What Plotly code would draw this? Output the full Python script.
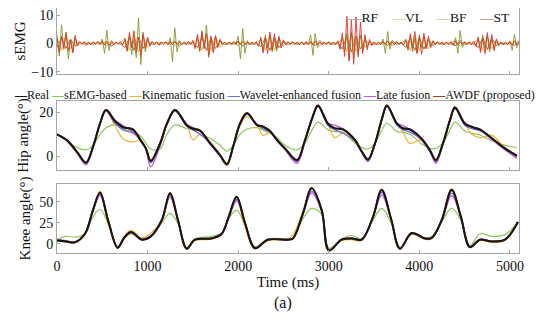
import numpy as np
import plotly.graph_objects as go

FONT = "Liberation Serif"

# ---------------- sEMG data (RF/BF every 25 ms, VL/ST every 50 ms) ----------------
semg_step_rf_bf = 25
semg_step_vl_st = 50
rf = [1.8,-3.2,2.4,-1.5,3.6,-2.6,1.2,-3.4,2.8,-0.9,
      0.6,-0.2,0.5,-0.7,0.2,-0.5,0.6,-0.3,0.7,-0.4,
      0.9,-0.6,0.4,-0.8,0.3,-0.6,0.5,-0.2,0.6,-0.5,
      1.4,-2.8,3.9,-1.6,4.4,-3.1,2.2,-4.2,3.3,-1.8,
      2.1,-0.9,0.7,-0.5,0.3,-0.7,0.5,-0.2,0.6,-0.5,
      0.8,-0.5,0.6,-0.3,0.5,-0.6,0.3,-0.5,0.7,-0.3,
      1.1,-1.9,3.2,-2.4,4.1,-1.8,3.5,-4.3,2.6,-3.3,
      2.7,-1.2,1.5,-0.6,0.4,-0.6,0.5,-0.3,0.7,-0.4,
      0.8,-0.5,0.6,-0.4,0.5,-0.6,0.3,-0.5,0.6,-1.1,
      2.2,-3.4,1.9,-3.6,4,-2.2,3.4,-1.9,2.5,-1.6,
      1.2,-0.6,0.5,-0.4,0.6,-0.3,0.5,-0.6,0.4,-0.5,
      0.6,-0.4,0.7,-0.6,0.8,-0.5,0.4,-0.6,0.5,-0.3,
      0.6,-0.5,0.4,-0.6,0.9,-2.1,3.6,-4.6,9.6,-6.2,
      8.2,-7.4,9.3,-4.8,7.5,-3.6,3.1,-2.2,1.4,-0.8,
      0.5,-0.6,0.4,-0.5,0.7,-0.4,0.8,-0.6,0.4,-0.5,
      0.6,-0.4,0.5,-0.6,1.3,-2.4,3.4,-1.9,4.2,-3.6,
      2.3,-3.9,3.6,-1.8,2.6,-1.5,0.9,-0.5,0.6,-0.4,
      0.5,-0.6,0.4,-0.5,0.6,-0.7,0.8,-0.6,0.5,-0.4,
      0.6,-0.5,0.4,-0.6,0.7,-1.1,2.3,-3.2,1.9,-3.7,
      3.8,-2.1,3.1,-2.6,1.6,-0.8,0.5,-0.6,0.4,-0.5,
      0.6,-0.7,0.8,-0.5,0.4]
bf = [3,-4.5,6.5,-2.2,4,-5.5,1.5,-3,2,-1,
      0.5,-0.3,0.6,-0.4,0.3,-0.5,0.4,-0.3,0.5,-0.4,
      1.5,-3.5,4.6,-2.5,1,-0.4,0.5,-0.3,0.4,-0.6,
      1.5,-2.5,3,-4,1.5,-5,9,-7.5,4,-3,
      2,-1,0.5,-0.3,0.6,-0.4,0.4,-0.3,0.5,-0.4,
      2,-6.5,5.5,-3,1,-0.4,0.5,-0.3,0.3,-0.5,
      0.6,-1.2,2.5,-3,4.5,-1.8,6.5,-5,2,-3,
      2.4,-1.5,0.8,-0.4,0.5,-0.3,0.4,-0.6,0.3,-0.4,
      2.5,-5.5,5.2,-3.5,1,-0.4,0.5,-0.3,0.3,-0.5,
      1.5,-2.5,3,-1.5,2.8,-3,1.5,-2.8,2,-1.5,
      1,-0.5,0.6,-0.3,0.4,-0.5,0.3,-0.4,0.5,-0.3,
      0.4,-0.5,3,-4.2,3.5,-1.5,0.5,-0.3,0.4,-0.5,
      0.3,-0.4,0.5,-0.3,0.5,-1,2,-3,3.5,-6,
      4,-5.5,1.5,-4,3,-2.5,2,-1.5,1,-0.5,
      0.3,-0.5,0.4,-0.3,1.5,-3.5,4.2,-2,0.6,-0.3,
      0.4,-0.5,0.3,-0.4,0.8,-1.5,2.5,-3,1.8,-3.5,
      3,-1.5,2.5,-2,1.5,-1,0.6,-0.3,0.5,-0.4,
      0.3,-0.5,0.4,-0.3,0.5,-0.4,2,-3.5,4.5,-1.5,
      0.5,-0.4,0.6,-0.3,0.4,-0.6,1.5,-2.5,3,-1.5,
      2.8,-3,1.2,-1.8,1,-0.5,0.3,-0.5,0.4,-0.3,
      0.8,-2.5,3.2,-1.5,0.5]
vl = [2,-2.5,3,-2,1.5,-0.5,0.3,-0.3,0.3,-0.3,
      0.3,-1,0.8,-0.3,0.3,2,-2.5,3,-3,2.5,
      -1.5,0.4,-0.3,0.3,-0.3,0.3,-1,0.8,-0.3,0.3,
      -0.3,1.5,-2.5,3,-2.5,2.5,-1.5,0.4,-0.3,0.3,
      -1,1,-0.3,0.3,-0.3,1.5,-2.5,2.8,-2.5,2,
      -1,0.4,-0.3,0.3,-0.3,0.3,-0.3,1,-0.8,0.3,
      -0.3,0.3,-0.3,2,-3,3.5,-3,2.5,-1.5,0.4,
      -0.3,0.3,-0.3,1,-0.8,0.3,-0.3,1.5,-2.5,3,
      -2.5,2.5,-2,1,-0.3,0.3,-0.3,0.3,1,-1,
      0.3,-0.3,0.3,1.5,-2.5,2.5,-2,1,-0.3,0.3,
      -0.3,1,-0.8]
st = [-1.5,2,-1.8,1.5,-1,0.4,-0.3,0.3,-0.3,0.3,
      -0.3,0.8,-1,0.3,-0.3,-1.5,2,-2.5,2.2,-1.8,
      1,-0.4,0.3,-0.3,0.3,-0.3,0.8,-1,0.3,-0.3,
      0.3,-1.5,2,-2.5,2,-1.8,1,-0.4,0.3,-0.3,
      0.8,-1,0.3,-0.3,0.3,-1.2,2,-2.5,2,-1.5,
      0.8,-0.4,0.3,-0.3,0.3,-0.3,0.3,-0.8,1,-0.3,
      0.3,-0.3,0.3,-2,2.5,-3,2.5,-2,1,-0.4,
      0.3,-0.3,0.3,-0.8,1,-0.3,0.3,-1.5,2,-2.5,
      2,-2,1.5,-0.8,0.3,-0.3,0.3,-0.3,-0.8,1,
      -0.3,0.3,-0.3,-1.5,2,-2.2,1.8,-0.8,0.3,-0.3,
      0.3,-0.8,1]

# ---------------- Hip angle (deg) ----------------
hip_t = [0,110,221,320,397,475,541,640,728,839,
         927,982,1034,1137,1214,1302,1435,1501,1578,1689,
         1799,1876,1943,2020,2097,2208,2274,2351,2428,2517,
         2649,2737,2815,2881,2991,3068,3157,3289,3366,3433,
         3510,3587,3642,3753,3819,3896,4029,4117,4183,4260,
         4338,4393,4503,4581,4669,4801,4945,5077]
hip_real = [10,7.3,2,-2.9,4.2,14.8,21,16,13.2,12.2,
            7,3.5,-2.1,5.8,14.8,21,14,12.5,11.6,6,
            0.6,-3.6,4.2,14.8,19.5,14.2,13.5,11.5,7.5,3.6,
            -1.7,7.3,17,23,14.8,12.7,12.2,7.4,2.1,-1.4,
            5.8,17,23,14.8,12.7,12.2,7.8,2.7,-1.7,5.8,
            16.4,22.1,14.8,13.3,12.2,8.2,3.6,0.3]
hip_semg = [10,7,4,2.9,5,10,13,14.3,12.5,11,
            9,6,3.3,3.3,10,14.2,12.5,12,10,8.2,
            5,2.4,5,10,12.4,13,12,10.5,8.5,5,
            2.9,6,12,15.5,12,11.2,11,6,4,3.3,
            6,12,15,11.2,11,10,5.5,3.6,3.6,6,
            12,15.5,11.5,10.5,9.7,7,5,4]
hip_kin = [10,7,1.5,-2.5,4.5,15,20.5,14,8,6.5,
           7.5,3.5,-1.5,6,15,20.5,14,7.5,10,6.5,
           1,-3,4.5,14,18,14,9.5,11,7.5,3.5,
           -1.5,7.5,17,22.5,15,8.5,10.5,7.5,2.5,-1,
           6,17,22.5,15,11,5.9,7.5,2.5,-1.5,6,
           16.5,21.5,15,10,8.5,9.5,4,0.5]
hip_wav = [10,7.5,2,-3.2,4.5,15,20.5,15,12,10.5,
           7.5,3.5,-3,5,14.5,20.5,13.5,12,10,6,
           0.5,-3.8,4.5,14.5,19,14.5,12.5,11,7.5,3.5,
           -2.5,7,17,22.5,14,12,10.5,7,2,-2,
           5.5,17,22.5,14,12,11,7.5,2.5,-2.5,5.5,
           16,21.5,14,12.5,11.5,8,3,-0.5]
hip_late = [10,7,1.5,-3.9,4,15,21,16.5,14,11,
            7,3,-4.7,4.5,14.5,21,14.5,13,11.5,5.5,
            0,-4,4,14.5,19.5,14.5,13.5,11,7,3,
            -3.2,6.5,17,23,15,14.2,12.5,7,1.5,-2.4,
            5.5,17,23,15,14,12,7,2,-3.2,5.5,
            16,22,15,13.5,12,7.5,3,-0.9]
hip_awdf = [10,7.3,2,-3,4.2,15,21.2,16,13.3,12,
            7,3.5,-2.3,5.8,15,21.2,14,12.7,11.8,6,
            0.6,-3.7,4.2,15,19.8,14.2,13.5,11.5,7.5,3.5,
            -1.9,7.3,17.2,23.2,14.8,12.8,12.2,7.4,2,-1.6,
            5.8,17,23.2,14.8,12.8,12.2,7.8,2.7,-1.9,5.8,
            16.5,22.3,14.8,13.3,12.2,8.2,3.6,0.1]

# ---------------- Knee angle (deg) ----------------
knee_t = [0,99,199,309,397,475,563,670,740,817,
          935,1026,1156,1247,1336,1432,1523,1708,1818,1895,
          1983,2075,2185,2329,2550,2605,2715,2811,2922,3002,
          3142,3253,3363,3488,3584,3687,3786,3915,4062,4136,
          4246,4357,4459,4558,4669,4798,4945,5088]
knee_real = [4.2,3,2,12,40,60.5,28,-4.5,7,14,
             5,8,28,59.7,28,-5.7,5,6.5,12,32,
             55.7,25,-5,5,5,6.5,36,65.7,40,-7.7,
             5,6.5,5,32,63.7,30,-5.7,12.9,6.5,7,
             28,63.7,32,-3.8,5,3,5,26]
knee_semg = [5,9,8,12,32,41,24,-3,6,12,
             6,9,25,36,24,-4,6,9,13,30,
             40,22,-3,6,6,7,30,42,35,-5,
             6,10,6,28,42,25,-4,11,7,9,
             26,42,28,-2,12,9,11,26]
knee_kin = [3.5,2,1.5,11,40,62,30,-3.5,9,16.5,
            7,12,28,61,26,-4.5,4,5.5,11,30,
            54,20,-4,4,6,11,38,67,40,-6,
            4,5,4,33,65,30,-4.5,12,5.5,6,
            29,65,30,-3,4,2,4,25]
knee_wav = [5.5,4,2.5,12,39,58.5,28,-4,7.5,13,
            6,9,27,57.5,28,-5,5.5,7,12.5,31,
            53,25,-4.5,5.5,5.5,7,35,62,40,-7,
            5.5,7,5.5,31,61,30,-5,12,7,7.5,
            27,60,32,-3.5,5.5,3.5,5.5,25]
knee_late = [4.5,3.5,2,12.5,39,57.5,27,-5,6.5,13.5,
             5,8.5,27,55.5,27,-6,5,6.5,12,30,
             51,24,-5.5,5,5,6.5,35,60,38,-7.5,
             5,6.5,5,31,58,29,-6,12.5,6.5,7,
             27,57,31,-4,5,3,5,26]
knee_awdf = [4.5,3,2,12,40,61,28.5,-4.5,7,14,
             5.5,8,28,60,28,-5.5,5,6.5,12,32,
             56,25,-5,5,5,6.5,36,66,40,-7.5,
             5,6.5,5,32,64,30,-5.5,13,6.5,7,
             28,64,32,-3.5,5,3,5,26]

x_ticks = [0, 1000, 2000, 3000, 4000, 5000]
semg_names = ["RF", "VL", "BF", "ST"]
method_names = ["Real", "sEMG-based", "Kinematic fusion", "Wavelet-enhanced fusion",
                "Late fusion", "AWDF (proposed)"]

semg_colors = {"RF": "#e3352b", "VL": "#eab23a", "BF": "#7e9c2c", "ST": "#9a5b2c"}
semg_legend_colors = {"RF": "#a0707e", "VL": "#cfc25a", "BF": "#aab84a", "ST": "#8f5e40"}
method_colors = ["#161616", "#8cc85a", "#f2b233", "#6b6be0", "#b55ee8", "#a3401c"]
method_widths = [2.0, 1.2, 1.2, 1.2, 1.3, 1.8]

fig = go.Figure()

semg_series = {"RF": (rf, semg_step_rf_bf), "VL": (vl, semg_step_vl_st),
               "BF": (bf, semg_step_rf_bf), "ST": (st, semg_step_vl_st)}
for name in ["ST", "VL", "BF", "RF"]:
    vals, step = semg_series[name]
    fig.add_trace(go.Scatter(
        x=np.arange(len(vals)) * step, y=vals, mode="lines", name=name,
        line=dict(color=semg_colors[name], width=0.9),
        showlegend=False, xaxis="x", yaxis="y"))

hip_series = [hip_real, hip_semg, hip_kin, hip_wav, hip_late, hip_awdf]
knee_series = [knee_real, knee_semg, knee_kin, knee_wav, knee_late, knee_awdf]
draw_order = [1, 2, 3, 4, 5, 0]
for i in draw_order:
    fig.add_trace(go.Scatter(
        x=hip_t, y=hip_series[i], mode="lines", name=method_names[i],
        line=dict(color=method_colors[i], width=method_widths[i], shape="spline"),
        showlegend=False, xaxis="x2", yaxis="y2"))
for i in draw_order:
    fig.add_trace(go.Scatter(
        x=knee_t, y=knee_series[i], mode="lines", name=method_names[i],
        line=dict(color=method_colors[i], width=method_widths[i], shape="spline"),
        showlegend=False, xaxis="x3", yaxis="y3"))

axis_common = dict(showline=True, linecolor="#a6a6a6", linewidth=1, mirror=True,
                   showgrid=False, zeroline=False, ticks="inside", ticklen=3,
                   tickcolor="#a6a6a6", automargin=False, ticklabeloverflow="allow",
                   tickfont=dict(family=FONT, size=14, color="#111"))
xcommon = dict(axis_common, range=[0, 5100], tickvals=x_ticks)

fig.update_layout(
    width=550, height=322,
    margin=dict(l=49, r=39, t=0, b=77, autoexpand=False),
    paper_bgcolor="white", plot_bgcolor="white",
    font=dict(family=FONT, size=13, color="#111"),
    xaxis=dict(xcommon, anchor="y", showticklabels=False),
    yaxis=dict(axis_common, domain=[0.7306, 1.0], range=[-10.81, 12.47], tickvals=[-10, 0, 10],
               title=dict(text="sEMG", font=dict(family=FONT, size=15), standoff=2)),
    xaxis2=dict(xcommon, anchor="y2", showticklabels=False),
    yaxis2=dict(axis_common, domain=[0.3388, 0.6204], range=[-6.2, 25.1], tickvals=[0, 20],
                title=dict(text="Hip angle(°)", font=dict(family=FONT, size=15), standoff=6)),
    xaxis3=dict(xcommon, anchor="y3",
                title=dict(text="Time (ms)", font=dict(family=FONT, size=15), standoff=2)),
    yaxis3=dict(axis_common, domain=[0.0, 0.2816], range=[-10.7, 70.8], tickvals=[0, 25, 50],
                title=dict(text="Knee angle(°)", font=dict(family=FONT, size=15), standoff=4)),
    showlegend=False,
)

NB = "\u00a0"
# Legend of the sEMG panel (muscle channels)
semg_legend_html = (NB * 4).join(
    f"<span style='color:{semg_legend_colors[n]}'>—</span>{n}" for n in semg_names)
fig.add_annotation(text=semg_legend_html, xref="paper", yref="paper", x=0.804, y=0.962,
                   xanchor="center", yanchor="middle", showarrow=False,
                   font=dict(family=FONT, size=13.5, color="#111"))

# Legend for the angle panels (one row, as in the figure)
legend_html = NB.join(
    f"<span style='color:{c}'><b>—</b></span>{n}"
    for n, c in zip(method_names, method_colors))
fig.add_annotation(text=legend_html, xref="paper", yref="paper", x=0.4697, y=0.645,
                   xanchor="center", yanchor="middle", showarrow=False,
                   font=dict(family=FONT, size=12, color="#111"))
fig.add_annotation(text="(a)", xref="paper", yref="paper", x=0.489, y=-0.204,
                   xanchor="center", yanchor="middle", showarrow=False,
                   font=dict(family=FONT, size=16, color="#111"))

fig.write_html("out.html")
